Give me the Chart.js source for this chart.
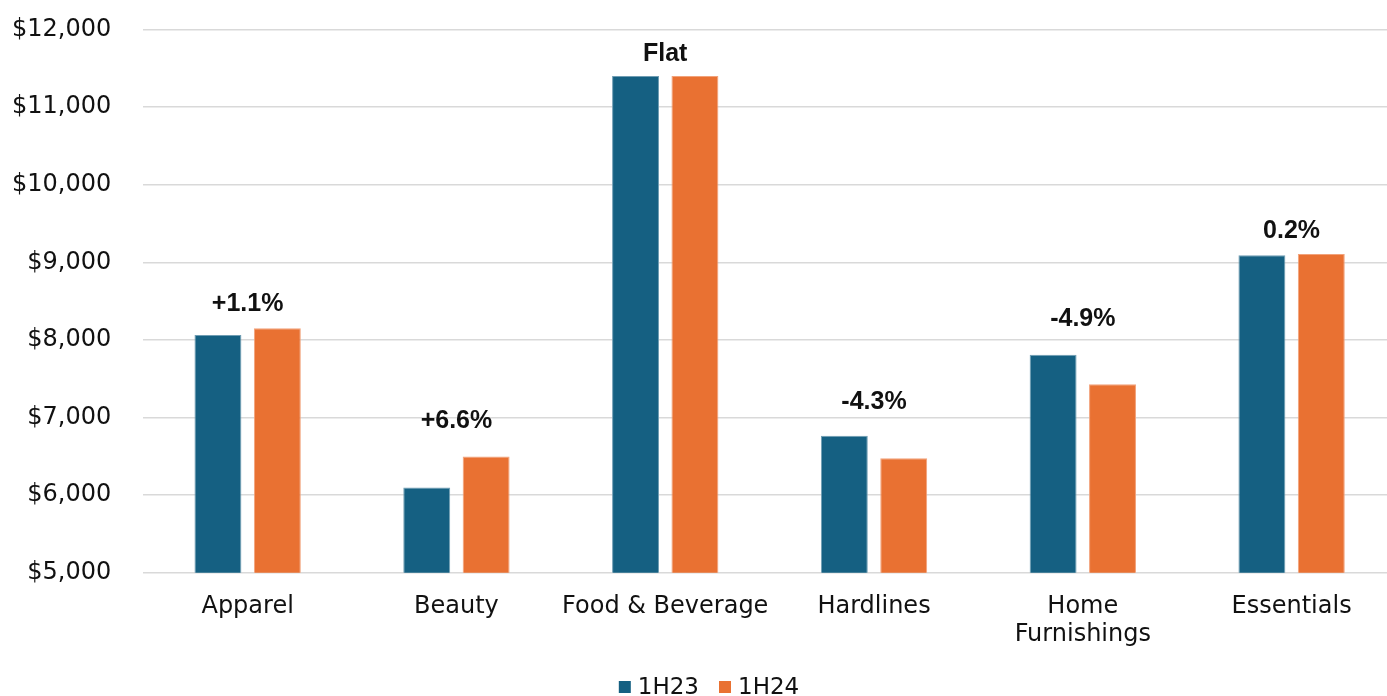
<!DOCTYPE html>
<html>
<head>
<meta charset="utf-8">
<script src="https://cdn.jsdelivr.net/npm/chart.js@4/dist/chart.umd.min.js"></script>
<style>
  html, body { margin: 0; padding: 0; background: #ffffff; overflow: hidden; }
  #frame { position: relative; width: 1387px; height: 696px; overflow: hidden; }
  #wrap { position: absolute; left: -28px; top: -17px; width: 1426px; height: 713px; }
</style>
</head>
<body>
<div id="frame"><div id="wrap"><canvas id="chart"></canvas></div></div>
<script>
// Average spend by category, first half of each year
const categories = ['Apparel', 'Beauty', 'Food & Beverage', 'Hardlines', ['Home', 'Furnishings'], 'Essentials'];
const series1H23 = [8065, 6100, 11400, 6765, 7810, 9090];
const series1H24 = [8150, 6500, 11400, 6475, 7428, 9108];
const changeLabels = ['+1.1%', '+6.6%', 'Flat', '-4.3%', '-4.9%', '0.2%'];
const yTicks = [5000, 6000, 7000, 8000, 9000, 10000, 11000, 12000];

const BLUE = '#156082';
const ORANGE = '#E97132';
const AXIS_FONT = '"DejaVu Sans", Verdana, sans-serif';

// Writes the year-over-year change above each category pair
const changeLabelPlugin = {
  id: 'changeLabels',
  afterDatasetsDraw(chart, args, opts) {
    const { ctx, scales: { x, y } } = chart;
    ctx.save();
    ctx.font = 'bold 25px "Liberation Sans", Arial, sans-serif';
    ctx.fillStyle = '#111111';
    ctx.textAlign = 'center';
    ctx.textBaseline = 'middle';
    changeLabels.forEach((txt, i) => {
      const top = Math.max(series1H23[i], series1H24[i]);
      ctx.fillText(txt, x.getPixelForValue(i), y.getPixelForValue(top) - opts.lift[i]);
    });
    ctx.restore();
  }
};

// Compact legend row under the category labels
const legendRowPlugin = {
  id: 'legendRow',
  afterDraw(chart, args, opts) {
    const { ctx } = chart;
    const items = chart.data.datasets.map(d => ({ text: d.label, color: d.backgroundColor }));
    ctx.save();
    ctx.font = '23px ' + AXIS_FONT;
    const box = 12, gap = 7, itemGap = 20;
    const widths = items.map(it => box + gap + ctx.measureText(it.text).width);
    const total = widths.reduce((a, b) => a + b, 0) + itemGap * (items.length - 1);
    let cx = opts.center - total / 2;
    const baseY = opts.baseline;
    items.forEach((it, i) => {
      ctx.fillStyle = it.color;
      ctx.fillRect(cx, baseY - 13, box, box);
      ctx.fillStyle = '#111111';
      ctx.textAlign = 'left';
      ctx.textBaseline = 'alphabetic';
      ctx.fillText(it.text, cx + box + gap, baseY);
      cx += widths[i] + itemGap;
    });
    ctx.restore();
  }
};

new Chart(document.getElementById('chart'), {
  type: 'bar',
  data: {
    labels: categories,
    datasets: [
      { label: '1H23', data: series1H23, backgroundColor: BLUE, borderColor: '#6f9db3', borderWidth: 1 },
      { label: '1H24', data: series1H24, backgroundColor: ORANGE, borderColor: '#f2a27a', borderWidth: 1 }
    ]
  },
  options: {
    responsive: true,
    maintainAspectRatio: false,
    animation: false,
    layout: { padding: { top: 16, left: 8, right: 2, bottom: 27 } },
    datasets: { bar: { categoryPercentage: 0.569, barPercentage: 0.79 } },
    scales: {
      x: {
        grid: { display: false, drawTicks: false },
        border: { display: false },
        ticks: {
          color: '#111111',
          padding: 20,
          maxRotation: 0,
          autoSkip: false,
          font: { family: AXIS_FONT, size: 24, lineHeight: 1.17 }
        }
      },
      y: {
        min: 5000,
        max: 12000,
        afterBuildTicks(scale) { scale.ticks = yTicks.map(v => ({ value: v })); },
        grid: { color: '#d9d9d9', lineWidth: 1.5, drawTicks: false },
        border: { display: false },
        ticks: {
          color: '#111111',
          padding: 32,
          font: { family: AXIS_FONT, size: 24 },
          callback: v => '$' + v.toLocaleString('en-US')
        }
      }
    },
    plugins: {
      legend: { display: false },
      tooltip: { enabled: false },
      changeLabels: { lift: [24, 35, 22, 34, 36, 23] },
      legendRow: { center: 737, baseline: 711 }
    }
  },
  plugins: [changeLabelPlugin, legendRowPlugin]
});
</script>
</body>
</html>
